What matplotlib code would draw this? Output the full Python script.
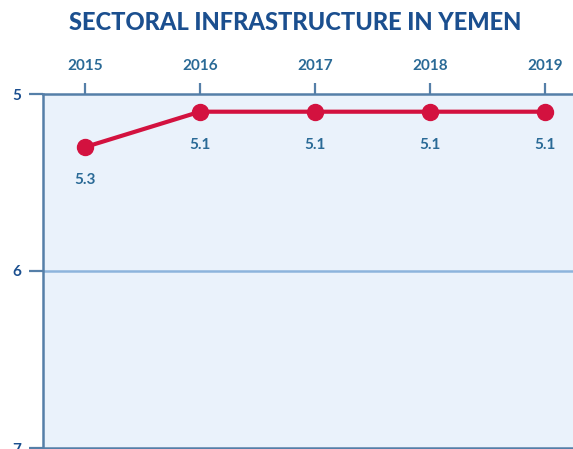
import matplotlib.pyplot as plt

# Data
years = [2015, 2016, 2017, 2018, 2019]
scores = [5.3, 5.1, 5.1, 5.1, 5.1]
labels = ['5.3', '5.1', '5.1', '5.1', '5.1']
y_ticks = [5, 6, 7]

navy = '#1b4f8f'
tick_blue = '#2a6a96'
axis_blue = '#557fa8'
red = '#d3123f'

plt.rcParams['font.family'] = ['Lato', 'DejaVu Sans']

fig = plt.figure(figsize=(5.73, 4.49), dpi=100)
ax = fig.add_axes([43 / 573, 1 / 449, 530 / 573, 354 / 449])
ax.set_facecolor('#eaf2fb')

ax.set_xlim(2015 - 42 / 115, 2019 + 28 / 115)
ax.set_ylim(7, 5)

# horizontal grid at 6 and base line at 7
ax.axhline(6, color='#8db4dc', lw=1.8, zorder=1)
ax.axhline(7, color=axis_blue, lw=1.8, zorder=1, clip_on=False)

ax.plot(years, scores, color=red, lw=3, marker='o', markersize=11.5, zorder=3)
for x, y, t in zip(years, scores, labels):
    ax.annotate(t, (x, y), xytext=(0, -24), textcoords='offset points',
                ha='center', va='center', fontsize=11, color=tick_blue, fontweight='bold')

ax.xaxis.tick_top()
ax.set_xticks(years)
ax.set_xticklabels([str(y) for y in years])
ax.set_yticks(y_ticks)
ax.tick_params(axis='x', direction='out', length=8, width=1.6, color=axis_blue,
               labelsize=11, labelcolor=tick_blue, pad=7)
ax.tick_params(axis='y', direction='out', length=10, width=1.6, color=axis_blue,
               labelsize=11, labelcolor=navy, pad=6)
for lbl in ax.get_xticklabels() + ax.get_yticklabels():
    lbl.set_fontweight('bold')

for side in ['right', 'bottom']:
    ax.spines[side].set_visible(False)
for side in ['top', 'left']:
    ax.spines[side].set_color(axis_blue)
    ax.spines[side].set_linewidth(1.8)

fig.text(295 / 573, 1 - 22 / 449, 'SECTORAL INFRASTRUCTURE IN YEMEN', ha='center', va='center',
         fontsize=17, fontweight=900, color=navy)

fig.savefig('out.png', dpi=100)
